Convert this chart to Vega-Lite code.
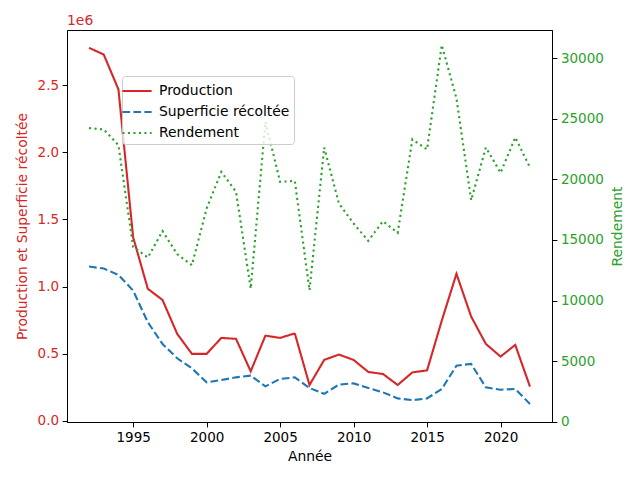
{
  "$schema": "https://vega.github.io/schema/vega-lite/v6.json",
  "width": 485,
  "height": 392,
  "autosize": {"type": "none"},
  "padding": {"left": 67, "top": 30, "right": 88, "bottom": 58},
  "background": "white",
  "title": {"text": "1e6", "anchor": "start", "frame": "group", "color": "#d62728", "fontSize": 13.9, "fontWeight": "normal", "baseline": "alphabetic", "offset": 4, "dy": 13},
  "data": {"values": [
    {"year": 1992, "Production": 2780000, "Superficie récoltée": 1149000, "Rendement": 24240},
    {"year": 1993, "Production": 2730000, "Superficie récoltée": 1134000, "Rendement": 24130},
    {"year": 1994, "Production": 2470000, "Superficie récoltée": 1087000, "Rendement": 22830},
    {"year": 1995, "Production": 1368000, "Superficie récoltée": 970000, "Rendement": 14430},
    {"year": 1996, "Production": 983000, "Superficie récoltée": 734000, "Rendement": 13550},
    {"year": 1997, "Production": 900000, "Superficie récoltée": 572000, "Rendement": 15730},
    {"year": 1998, "Production": 647000, "Superficie récoltée": 465000, "Rendement": 13830},
    {"year": 1999, "Production": 498000, "Superficie récoltée": 390000, "Rendement": 12920},
    {"year": 2000, "Production": 498000, "Superficie récoltée": 286000, "Rendement": 17600},
    {"year": 2001, "Production": 617000, "Superficie récoltée": 303000, "Rendement": 20630},
    {"year": 2002, "Production": 610000, "Superficie récoltée": 323000, "Rendement": 18980},
    {"year": 2003, "Production": 368000, "Superficie récoltée": 336000, "Rendement": 10990},
    {"year": 2004, "Production": 634000, "Superficie récoltée": 256000, "Rendement": 24760},
    {"year": 2005, "Production": 617000, "Superficie récoltée": 311000, "Rendement": 19800},
    {"year": 2006, "Production": 651000, "Superficie récoltée": 323000, "Rendement": 19880},
    {"year": 2007, "Production": 266000, "Superficie récoltée": 244000, "Rendement": 10850},
    {"year": 2008, "Production": 453000, "Superficie récoltée": 200000, "Rendement": 22640},
    {"year": 2009, "Production": 493000, "Superficie récoltée": 269000, "Rendement": 18020},
    {"year": 2010, "Production": 453000, "Superficie récoltée": 278000, "Rendement": 16360},
    {"year": 2011, "Production": 363000, "Superficie récoltée": 244000, "Rendement": 14930},
    {"year": 2012, "Production": 348000, "Superficie récoltée": 211000, "Rendement": 16550},
    {"year": 2013, "Production": 266000, "Superficie récoltée": 166000, "Rendement": 15590},
    {"year": 2014, "Production": 360000, "Superficie récoltée": 153000, "Rendement": 23310},
    {"year": 2015, "Production": 375000, "Superficie récoltée": 166000, "Rendement": 22480},
    {"year": 2016, "Production": 746000, "Superficie récoltée": 236000, "Rendement": 31100},
    {"year": 2017, "Production": 1095000, "Superficie récoltée": 410000, "Rendement": 26690},
    {"year": 2018, "Production": 776000, "Superficie récoltée": 423000, "Rendement": 18290},
    {"year": 2019, "Production": 572000, "Superficie récoltée": 248000, "Rendement": 22640},
    {"year": 2020, "Production": 478000, "Superficie récoltée": 231000, "Rendement": 20550},
    {"year": 2021, "Production": 565000, "Superficie récoltée": 236000, "Rendement": 23470},
    {"year": 2022, "Production": 254000, "Superficie récoltée": 125000, "Rendement": 20990}
  ]},
  "encoding": {
    "x": {
      "field": "year", "type": "quantitative",
      "scale": {"domain": [1990.5, 2023.5], "nice": false, "zero": false},
      "axis": {"title": "Année", "values": [1995, 2000, 2005, 2010, 2015, 2020], "format": "d", "grid": false, "titlePadding": 6}
    }
  },
  "layer": [
    {
      "transform": [{"fold": ["Production", "Superficie récoltée"], "as": ["series", "value"]}],
      "mark": {"type": "line", "strokeWidth": 2.1, "strokeCap": "butt"},
      "encoding": {
        "y": {
          "field": "value", "type": "quantitative",
          "scale": {"domain": [-10000, 2913000], "nice": false, "zero": false},
          "axis": {
            "title": "Production et Superficie récoltée",
            "values": [0, 500000, 1000000, 1500000, 2000000, 2500000],
            "labelExpr": "format(datum.value / 1000000, '.1f')",
            "labelColor": "#d62728", "titleColor": "#d62728", "grid": false, "titlePadding": 8
          }
        },
        "color": {
          "field": "series", "type": "nominal",
          "scale": {"domain": ["Production", "Superficie récoltée", "Rendement"], "range": ["#d62728", "#1f77b4", "#2ca02c"]},
          "legend": {"title": null}
        },
        "strokeDash": {
          "field": "series", "type": "nominal",
          "scale": {"domain": ["Production", "Superficie récoltée", "Rendement"], "range": [[1, 0], [7.7, 3.3], [2.1, 3.4]]},
          "legend": {"title": null}
        }
      }
    },
    {
      "mark": {"type": "line", "strokeWidth": 2.1, "strokeCap": "butt"},
      "encoding": {
        "y": {
          "field": "Rendement", "type": "quantitative",
          "scale": {"domain": [-30, 32340], "nice": false, "zero": false},
          "axis": {
            "orient": "right", "title": "Rendement", "titleAngle": 270, "titleBaseline": "top",
            "values": [0, 5000, 10000, 15000, 20000, 25000, 30000], "format": "d",
            "labelColor": "#2ca02c", "titleColor": "#2ca02c", "grid": false, "titlePadding": 7
          }
        },
        "color": {"datum": "Rendement", "type": "nominal"},
        "strokeDash": {"datum": "Rendement", "type": "nominal"}
      }
    }
  ],
  "resolve": {"scale": {"y": "independent"}},
  "config": {
    "font": "DejaVu Sans",
    "view": {"stroke": "black", "strokeWidth": 1},
    "axis": {
      "labelFont": "DejaVu Sans", "labelFontSize": 13.5, "labelColor": "black",
      "titleFont": "DejaVu Sans", "titleFontSize": 13.9, "titleFontWeight": "normal", "titleColor": "black",
      "domainColor": "black", "tickColor": "black", "tickSize": 4.9, "labelPadding": 3.5,
      "domainWidth": 1, "tickWidth": 1
    },
    "legend": {
      "orient": "none", "legendX": 55, "legendY": 46,
      "labelFont": "DejaVu Sans", "labelFontSize": 13.9, "labelColor": "black",
      "symbolType": "M-1.5,0H1.5", "symbolSize": 380, "symbolStrokeWidth": 2.1,
      "rowPadding": 3, "padding": 4, "strokeColor": "#cccccc", "fillColor": "rgba(255,255,255,0.8)",
      "cornerRadius": 3, "labelOffset": 11
    }
  }
}
